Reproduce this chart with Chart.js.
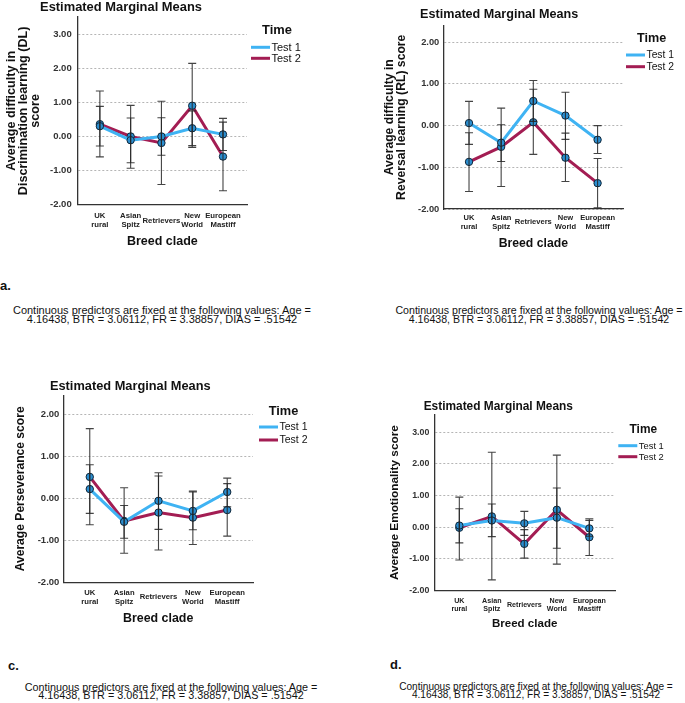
<!DOCTYPE html>
<html>
<head>
<meta charset="utf-8">
<script src="https://cdn.jsdelivr.net/npm/chart.js@4.4.1/dist/chart.umd.min.js"></script>
<style>
  body { margin: 0; background: #fff; }
  #fig { position: relative; width: 685px; height: 703px; overflow: hidden; font-family: 'Liberation Sans', Arial, sans-serif; color: #111; }
  canvas { position: absolute; }
  .tag { position: absolute; font-weight: bold; font-size: 13px; line-height: 14px; }
  .note { position: absolute; width: 340px; text-align: center; white-space: nowrap; }
</style>
</head>
<body>
<div id="fig">
  <canvas id="dl" width="340" height="265" style="left:0;top:0"></canvas>
  <canvas id="rl" width="345" height="265" style="left:340px;top:0"></canvas>
  <canvas id="pe" width="340" height="270" style="left:0;top:370px"></canvas>
  <canvas id="em" width="345" height="270" style="left:340px;top:370px"></canvas>

  <div class="tag" style="left:0;top:279px">a.</div>
  <div class="tag" style="left:8px;top:659px">c.</div>
  <div class="tag" style="left:390px;top:658px">d.</div>

  <div class="note" style="left:-8px;top:306px;font-size:11px;line-height:9px">Continuous predictors are fixed at the following values: Age =<br>4.16438, BTR = 3.06112, FR = 3.38857, DIAS = .51542</div>
  <div class="note" style="left:369px;top:306px;font-size:10.6px;line-height:9px">Continuous predictors are fixed at the following values: Age =<br>4.16438, BTR = 3.06112, FR = 3.38857, DIAS = .51542</div>
  <div class="note" style="left:1px;top:682.5px;font-size:10.8px;line-height:8.5px">Continuous predictors are fixed at the following values: Age =<br>4.16438, BTR = 3.06112, FR = 3.38857, DIAS = .51542</div>
  <div class="note" style="left:366px;top:682.5px;font-size:10.1px;line-height:8.5px">Continuous predictors are fixed at the following values: Age =<br>4.16438, BTR = 3.06112, FR = 3.38857, DIAS = .51542</div>
</div>

<script>
const clades = [['UK', 'rural'], ['Asian', 'Spitz'], 'Retrievers', ['New', 'World'], ['European', 'Mastiff']];
const times = ['Test 1', 'Test 2'];

// a. discrimination learning
const dlTicks = [-2, -1, 0, 1, 2, 3];
const dlTest1 = [0.30, -0.11, 0.00, 0.24, 0.06];
const dlTest1Low = [-0.28, -0.77, -0.55, -0.27, -0.41];
const dlTest1High = [0.88, 0.54, 0.55, 0.75, 0.53];
const dlTest2 = [0.36, 0.00, -0.19, 0.90, -0.59];
const dlTest2Low = [-0.60, -0.93, -1.41, -0.32, -1.59];
const dlTest2High = [1.33, 0.91, 1.03, 2.14, 0.42];

// reversal learning
const rlTicks = [-2, -1, 0, 1, 2];
const rlTest1 = [0.06, -0.41, 0.59, 0.24, -0.34];
const rlTest1Low = [-0.45, -0.86, 0.10, -0.33, -0.67];
const rlTest1High = [0.58, 0.02, 1.08, 0.80, 0.00];
const rlTest2 = [-0.87, -0.51, 0.08, -0.77, -1.38];
const rlTest2Low = [-1.58, -1.46, -0.69, -1.34, -1.97];
const rlTest2High = [-0.17, 0.42, 0.87, -0.18, -0.79];

// c. perseverance
const peTicks = [-2, -1, 0, 1, 2];
const peTest1 = [0.22, -0.56, -0.06, -0.30, 0.15];
const peTest1Low = [-0.36, -0.95, -0.74, -0.75, -0.20];
const peTest1High = [0.80, -0.17, 0.61, 0.15, 0.48];
const peTest2 = [0.51, -0.54, -0.34, -0.46, -0.28];
const peTest2Low = [-0.63, -1.31, -1.23, -1.10, -0.90];
const peTest2High = [1.66, 0.25, 0.53, 0.17, 0.35];

// d. emotionality
const emTicks = [-2, -1, 0, 1, 2, 3];
const emTest1 = [0.05, 0.21, 0.12, 0.30, -0.04];
const emTest1Low = [-0.50, -0.30, -0.26, -0.67, -0.29];
const emTest1High = [0.58, 0.73, 0.50, 1.24, 0.21];
const emTest2 = [-0.02, 0.34, -0.53, 0.55, -0.32];
const emTest2Low = [-1.04, -1.67, -0.98, -1.17, -0.90];
const emTest2High = [0.95, 2.37, -0.08, 2.28, 0.26];

const FONT = "'Liberation Sans', Arial, sans-serif";
const BLUE = '#3fb3f3';
const RED = '#a31d53';

// draws error bars, the panel heading and the "Time" legend
const deco = {
  id: 'deco',
  afterDatasetsDraw(chart) {
    const { ctx, scales: { x, y } } = chart;
    ctx.save();
    ctx.strokeStyle = 'rgba(35,35,35,0.85)';
    ctx.lineWidth = 1.1;
    chart.data.datasets.forEach(ds => {
      ds.errLow.forEach((lo, i) => {
        const px = x.getPixelForValue(i);
        const y1 = y.getPixelForValue(lo);
        const y2 = y.getPixelForValue(ds.errHigh[i]);
        ctx.beginPath();
        ctx.moveTo(px, y1); ctx.lineTo(px, y2);
        ctx.moveTo(px - 4, y1); ctx.lineTo(px + 4, y1);
        ctx.moveTo(px - 4, y2); ctx.lineTo(px + 4, y2);
        ctx.stroke();
      });
    });
    ctx.restore();
  },
  afterDraw(chart, args, o) {
    const ctx = chart.ctx;
    ctx.save();
    ctx.fillStyle = '#111';
    ctx.textBaseline = 'middle';
    ctx.textAlign = 'center';
    ctx.font = 'bold ' + o.tsize + 'px ' + FONT;
    ctx.fillText('Estimated Marginal Means', o.tx, o.ty);
    ctx.fillText('Time', o.lx0, o.ly0);
    ctx.textAlign = 'left';
    ctx.font = o.lsize + 'px ' + FONT;
    chart.data.datasets.forEach((ds, i) => {
      const yy = o.ly1 + i * o.ldy;
      ctx.strokeStyle = ds.borderColor;
      ctx.lineWidth = 3;
      ctx.beginPath();
      ctx.moveTo(o.lx, yy); ctx.lineTo(o.lx + 19, yy);
      ctx.stroke();
      ctx.fillText(ds.label, o.lx + 20.5, yy + 0.5);
    });
    ctx.restore();
  }
};

function series(label, vals, lo, hi, color) {
  return {
    label: label,
    data: vals.map((v, i) => ({ x: i, y: v })),
    errLow: lo,
    errHigh: hi,
    borderColor: color,
    borderWidth: 3,
    pointRadius: 3.7,
    pointBackgroundColor: '#2b8ed0',
    pointBorderColor: '#0f2639',
    pointBorderWidth: 1,
    tension: 0
  };
}

function panel(id, p) {
  const s = p.s;
  return new Chart(document.getElementById(id), {
    type: 'line',
    data: {
      datasets: [
        series(times[0], p.t1, p.t1lo, p.t1hi, BLUE),
        series(times[1], p.t2, p.t2lo, p.t2hi, RED)
      ]
    },
    options: {
      responsive: false,
      animation: false,
      events: [],
      layout: { padding: { left: 0, top: p.top, right: p.w - p.right, bottom: p.h - p.bottom - p.xh } },
      scales: {
        x: {
          type: 'linear',
          min: p.xr[0],
          max: p.xr[1],
          afterBuildTicks: sc => { sc.ticks = clades.map((c, i) => ({ value: i })); },
          afterFit: sc => { sc.height = p.xh; },
          grid: { display: false },
          border: { display: true, color: '#333', width: 1.3 },
          ticks: {
            autoSkip: false, maxRotation: 0, minRotation: 0, crossAlign: 'center',
            padding: p.xpad, color: '#222',
            font: { family: FONT, size: 0.6 * s, weight: 'bold', lineHeight: 1.2 },
            callback: v => clades[v]
          },
          title: {
            display: true, text: 'Breed clade', color: '#111', padding: 0,
            font: { family: FONT, size: 0.97 * s, weight: 'bold', lineHeight: 1.2 }
          }
        },
        y: {
          min: -2,
          max: p.ymax,
          afterBuildTicks: sc => { sc.ticks = p.ticks.map(v => ({ value: v })); },
          afterFit: sc => { sc.width = p.left; },
          grid: { color: '#b5b5b5', lineWidth: 1, drawTicks: false },
          border: { display: true, color: '#333', width: 1.3, dash: [2, 2] },
          ticks: {
            padding: p.ypad, color: '#333',
            font: { family: FONT, size: 0.74 * s, weight: 'bold' },
            callback: v => v.toFixed(2)
          },
          title: {
            display: true, text: p.ytitle, color: '#111',
            padding: { top: p.ytpad, bottom: 0 },
            font: { family: FONT, size: p.yts, weight: 'bold', lineHeight: 0.95 }
          }
        }
      },
      plugins: {
        legend: { display: false },
        tooltip: { enabled: false },
        deco: p.deco
      }
    },
    plugins: [deco]
  });
}

panel('dl', {
  w: 340, h: 265, left: 77.7, top: 17, right: 247, bottom: 204.7, xh: 44.2,
  xr: [-0.72, 4.78], ymax: 3.5, ticks: dlTicks, s: 12.9,
  xpad: 3.1, ypad: 6, yts: 12.6, ytpad: 5.5,
  ytitle: ['Average difficulty in', 'Discrimination learning (DL)', 'score'],
  t1: dlTest1, t1lo: dlTest1Low, t1hi: dlTest1High,
  t2: dlTest2, t2lo: dlTest2Low, t2hi: dlTest2High,
  deco: { tx: 121, ty: 7, tsize: 12.9, lx0: 277, ly0: 30.7, lx: 251, ly1: 47.3, ldy: 11, lsize: 11 }
});

panel('rl', {
  w: 345, h: 265, left: 103.3, top: 25.5, right: 283.3, bottom: 209, xh: 42,
  xr: [-0.8, 4.8], ymax: 2.4, ticks: rlTicks, s: 12.6,
  xpad: 0.6, ypad: 4, yts: 12.2, ytpad: 44.1,
  ytitle: ['Average difficulty in', 'Reversal learning (RL) score'],
  t1: rlTest1, t1lo: rlTest1Low, t1hi: rlTest1High,
  t2: rlTest2, t2lo: rlTest2Low, t2hi: rlTest2High,
  deco: { tx: 159.2, ty: 15, tsize: 12.6, lx0: 311.7, ly0: 38.3, lx: 286, ly1: 55, ldy: 11.7, lsize: 10.3 }
});

panel('pe', {
  w: 340, h: 270, left: 63.3, top: 25.4, right: 253, bottom: 212.3, xh: 43.8,
  xr: [-0.77, 4.75], ymax: 2.45, ticks: peTicks, s: 12.8,
  xpad: 2.2, ypad: 4, yts: 12.1, ytpad: 15,
  ytitle: 'Average Perseverance score',
  t1: peTest1, t1lo: peTest1Low, t1hi: peTest1High,
  t2: peTest2, t2lo: peTest2Low, t2hi: peTest2High,
  deco: { tx: 130.3, ty: 16.7, tsize: 12.8, lx0: 283.5, ly0: 41.7, lx: 259, ly1: 57, ldy: 13, lsize: 10.5 }
});

panel('em', {
  w: 345, h: 270, left: 94.3, top: 45, right: 275, bottom: 220.3, xh: 40,
  xr: [-0.77, 4.79], ymax: 3.55, ticks: emTicks, s: 11.9,
  xpad: 2.6, ypad: 5, yts: 11.8, ytpad: 49,
  ytitle: 'Average Emotionality score',
  t1: emTest1, t1lo: emTest1Low, t1hi: emTest1High,
  t2: emTest2, t2lo: emTest2Low, t2hi: emTest2High,
  deco: { tx: 158.3, ty: 36.7, tsize: 11.9, lx0: 303.3, ly0: 59.3, lx: 278.3, ly1: 75.7, ldy: 11, lsize: 9.4 }
});
</script>
</body>
</html>
